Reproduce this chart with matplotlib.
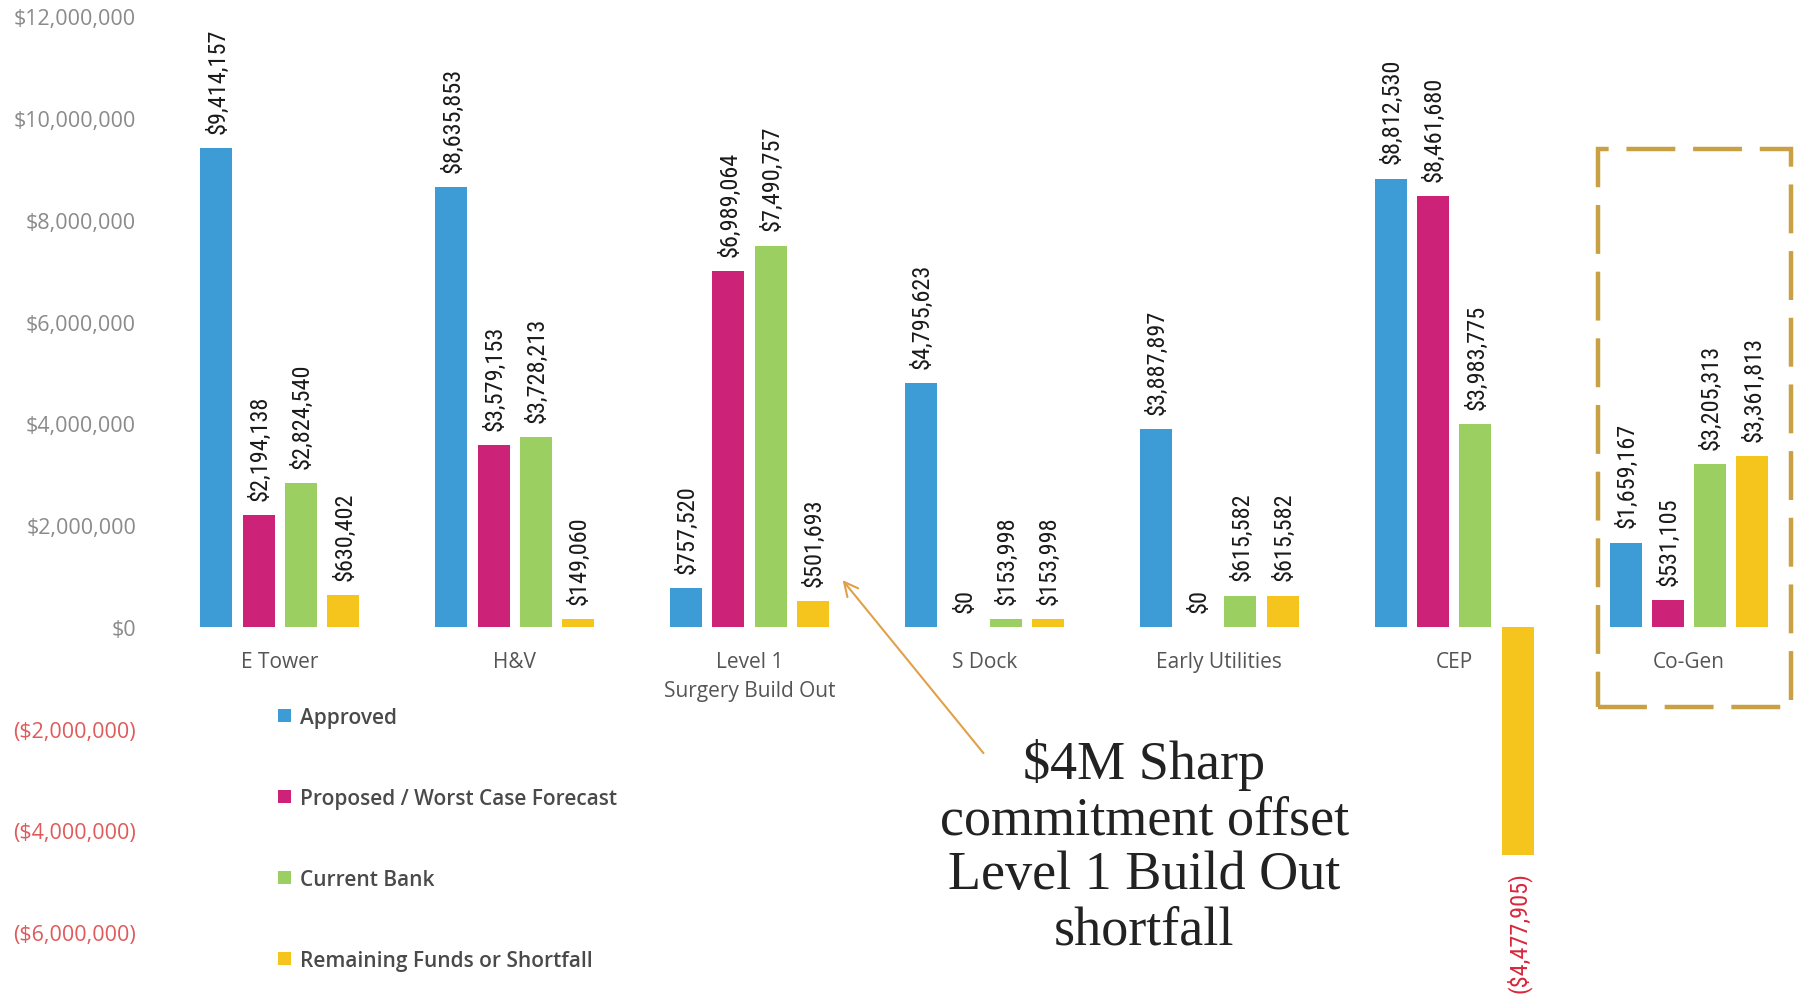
import matplotlib
matplotlib.use('Agg')
import matplotlib.pyplot as plt
from matplotlib.patches import Rectangle
from matplotlib.ticker import FuncFormatter
import numpy as np

categories = ['E Tower', 'H&V', 'Level 1\nSurgery Build Out', 'S Dock',
              'Early Utilities', 'CEP', 'Co-Gen']
series_names = ['Approved', 'Proposed / Worst Case Forecast', 'Current Bank',
                'Remaining Funds or Shortfall']
approved = [9414157, 8635853, 757520, 4795623, 3887897, 8812530, 1659167]
proposed = [2194138, 3579153, 6989064, 0, 0, 8461680, 531105]
current_bank = [2824540, 3728213, 7490757, 153998, 615582, 3983775, 3205313]
remaining = [630402, 149060, 501693, 153998, 615582, -4477905, 3361813]
colors = ['#3d9bd5', '#cc2277', '#9ccf62', '#f5c41d']
yticks = [-6000000, -4000000, -2000000, 0, 2000000, 4000000, 6000000,
          8000000, 10000000, 12000000]

label_font = ['Roboto Condensed', 'DejaVu Sans']
ui_font = ['Open Sans', 'DejaVu Sans']

fig = plt.figure(figsize=(18.05, 10.04), dpi=100)
ax = fig.add_axes([150 / 1805, 0, 1 - 150 / 1805, 1])

x = np.arange(len(categories))
pitch = 0.18
width = 0.136
all_series = [approved, proposed, current_bank, remaining]
for i, (vals, name, c) in enumerate(zip(all_series, series_names, colors)):
    xs = x + (i - 1.5) * pitch
    ax.bar(xs, vals, width, color=c, label=name)
    for xi, v in zip(xs, vals):
        if v >= 0:
            ax.annotate('${:,.0f}'.format(v), (xi, v), xytext=(1, 11),
                        textcoords='offset points', rotation=90,
                        ha='center', va='bottom', fontsize=17.5,
                        family=label_font, fontstretch='condensed',
                        color='#1a1a1a')
        else:
            ax.annotate('(${:,.0f})'.format(-v), (xi, v), xytext=(1, -12),
                        textcoords='offset points', rotation=90,
                        ha='center', va='top', fontsize=17.5,
                        family=label_font, fontstretch='condensed',
                        color='#d9263a')

# category names under the zero line
for xi, cat in zip(x, categories):
    ax.annotate(cat, (xi, 0), xytext=(0, -17), textcoords='offset points',
                ha='center', va='top', fontsize=15, family=ui_font,
                color='#555555', linespacing=1.5)

ax.set_xlim(-0.553, 6.494)
ax.set_ylim(-7390000, 12340000)
ax.set_yticks(yticks)
ax.yaxis.set_major_formatter(FuncFormatter(
    lambda v, p: '${:,.0f}'.format(v) if v >= 0 else '(${:,.0f})'.format(-v)))
ax.tick_params(axis='y', length=0, pad=10, labelsize=15.5)
for lbl, v in zip(ax.get_yticklabels(), yticks):
    lbl.set_fontfamily(ui_font)
    lbl.set_color('#e05a5a' if v < 0 else '#8a8a8a')
ax.set_xticks([])
for s in ax.spines.values():
    s.set_visible(False)

# legend
fig.legend(loc='upper left', bbox_to_anchor=(278 / 1805, 1 - 708 / 1004),
           frameon=False, borderpad=0, borderaxespad=0, handlelength=0.6,
           handleheight=0.6, handletextpad=0.45, labelspacing=2.88,
           prop={'family': ui_font, 'size': 15, 'weight': 'semibold'},
           labelcolor='#4a4a4a')

# dashed box around Co-Gen
ax.add_patch(Rectangle((5.613, -1570000), 0.821, 10960000, fill=False,
                       edgecolor='#c9a043', linewidth=3.2,
                       linestyle=(0, (11, 4)), clip_on=False))

# annotation text and arrow
ax.text(3.68, -4320000,
        '$4M Sharp\ncommitment offset\nLevel 1 Build Out\nshortfall',
        ha='center', va='center', fontsize=39, family='Liberation Serif',
        color='#222222', linespacing=1.12)
ax.annotate('', xy=(2.396, 920000), xytext=(2.996, -2480000),
            arrowprops=dict(arrowstyle='->', color='#e0a04a', lw=1.5,
                            mutation_scale=25, shrinkA=0, shrinkB=0))

fig.savefig('out.png', dpi=100, facecolor='white')
